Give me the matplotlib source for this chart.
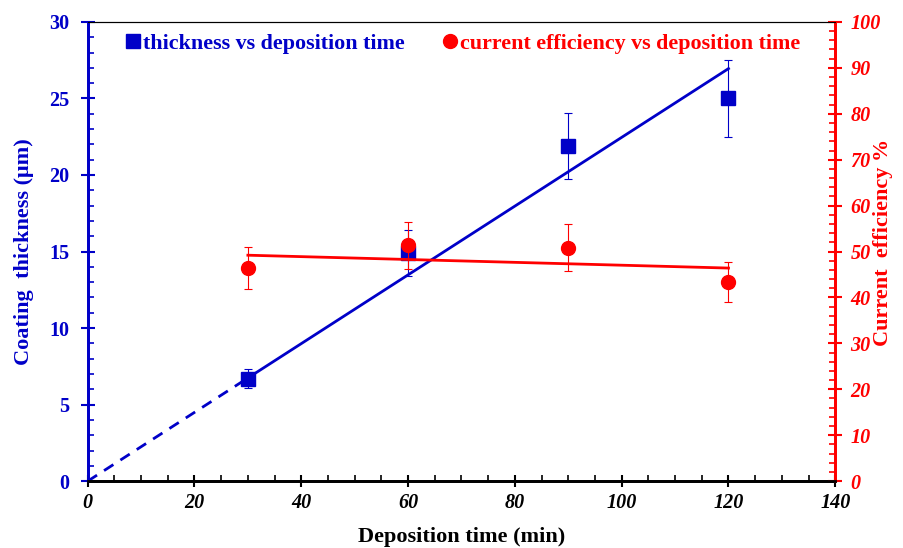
import matplotlib
matplotlib.use("Agg")
import matplotlib.pyplot as plt
from matplotlib.ticker import MultipleLocator

plt.rcParams['font.family'] = ['Liberation Serif', 'DejaVu Serif']

# data
time_min = [30, 60, 90, 120]
thickness = [6.7, 14.9, 21.9, 25.0]
thickness_err = [0.6, 1.5, 2.15, 2.5]
efficiency = [46.4, 51.4, 50.8, 43.4]
efficiency_err = [4.5, 5.1, 5.1, 4.3]

# linear fit lines
thick_fit_dash_x = [0, 30]
thick_fit_dash_y = [0, 6.74]
thick_fit_x = [30, 120]
thick_fit_y = [6.74, 26.95]
eff_fit_x = [30, 120]
eff_fit_y = [49.2, 46.4]

blue = '#0000C8'
red = '#FF0000'

fig = plt.figure(figsize=(9.04, 5.48), dpi=100)
ax = fig.add_axes([0.097, 0.122, 0.827, 0.838])
ax2 = ax.twinx()

# thickness
ax.plot(thick_fit_dash_x, thick_fit_dash_y, color=blue, lw=2, ls=(0, (4, 3)))
ax.plot(thick_fit_x, thick_fit_y, color=blue, lw=2)
ax.errorbar(time_min, thickness, yerr=thickness_err, fmt='none', ecolor=blue,
            elinewidth=0.8, capsize=3, capthick=0.8)
h1, = ax.plot(time_min, thickness, 's', color=blue, ms=10.5, ls='none',
              label='thickness vs deposition time')

# current efficiency
ax2.plot(eff_fit_x, eff_fit_y, color=red, lw=2)
ax2.errorbar(time_min, efficiency, yerr=efficiency_err, fmt='none', ecolor=red,
             elinewidth=0.8, capsize=3, capthick=0.8)
h2, = ax2.plot(time_min, efficiency, 'o', color=red, ms=10, ls='none',
               label='current efficiency vs deposition time')

ax.set_xlim(0, 140)
ax.set_ylim(0, 30)
ax2.set_ylim(0, 100)

ax.xaxis.set_major_locator(MultipleLocator(20))
ax.xaxis.set_minor_locator(MultipleLocator(5))
ax.yaxis.set_major_locator(MultipleLocator(5))
ax.yaxis.set_minor_locator(MultipleLocator(1))
ax2.yaxis.set_major_locator(MultipleLocator(10))
ax2.yaxis.set_minor_locator(MultipleLocator(2))

ax.tick_params(axis='x', which='major', direction='inout', length=9, width=1.5, color='black', pad=4)
ax.tick_params(axis='x', which='minor', direction='in', length=4, width=1.2, color='black')
ax.tick_params(axis='y', which='major', direction='inout', length=10, width=1.5, color=blue, pad=8)
ax.tick_params(axis='y', which='minor', direction='in', length=4, width=1.2, color=blue)
ax2.tick_params(axis='y', which='major', direction='inout', length=10, width=1.5, color=red, pad=6)
ax2.tick_params(axis='y', which='minor', direction='in', length=4, width=1.2, color=red)

for lab in ax.get_xticklabels():
    lab.set_fontstyle('italic')
    lab.set_fontweight('bold')
    lab.set_fontsize(14.5)
for lab in ax.get_yticklabels():
    lab.set_fontweight('bold')
    lab.set_color(blue)
    lab.set_fontsize(14.5)
for lab in ax2.get_yticklabels():
    lab.set_fontstyle('italic')
    lab.set_fontweight('bold')
    lab.set_color(red)
    lab.set_fontsize(14.5)

for a in (ax, ax2):
    a.spines['top'].set_linewidth(0.8)
    a.spines['bottom'].set_linewidth(2)
    a.spines['left'].set_color(blue)
    a.spines['left'].set_linewidth(2)
    a.spines['right'].set_color(red)
    a.spines['right'].set_linewidth(2)

ax.set_xlabel('Deposition time (min)', fontsize=16, fontweight='bold')
ax.xaxis.set_label_coords(0.5, -0.1)
ax.set_ylabel('Coating  thickness (μm)', fontsize=16, fontweight='bold', color=blue)
ax.yaxis.set_label_coords(-0.072, 0.5)
ax2.set_ylabel('Current  efficiency %', fontsize=16, fontweight='bold', color=red)
ax2.yaxis.set_label_coords(1.051, 0.52)

leg = ax2.legend(handles=[h1, h2], loc='upper left', bbox_to_anchor=(0.025, 1.018),
                 ncol=2, frameon=False, handlelength=0.6, handletextpad=0.15,
                 columnspacing=1.8, prop={'weight': 'bold', 'size': 15.8})
for t, c in zip(leg.get_texts(), [blue, red]):
    t.set_color(c)

fig.savefig('out.png', dpi=100)
